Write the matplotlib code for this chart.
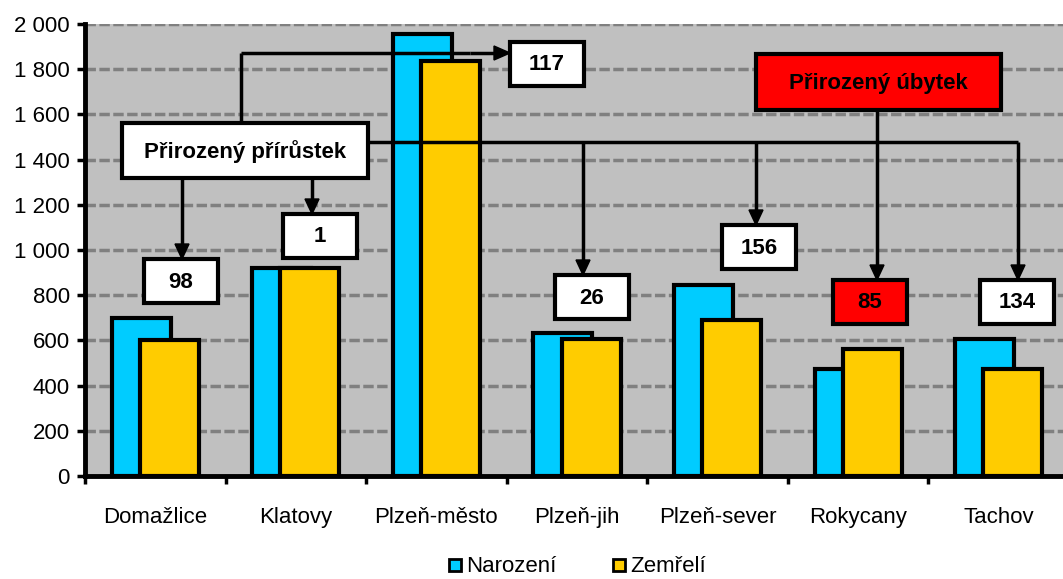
import numpy as np
import matplotlib
matplotlib.use("Agg")
import matplotlib.pyplot as plt
from matplotlib.patches import Rectangle, Polygon
from matplotlib.lines import Line2D

plt.rcParams['font.family'] = ['Liberation Sans', 'DejaVu Sans']

okresy = ["Domažlice", "Klatovy", "Plzeň-město", "Plzeň-jih", "Plzeň-sever", "Rokycany", "Tachov"]
narozeni = [698, 920, 1955, 632, 846, 475, 606]
zemreli = [600, 919, 1838, 606, 690, 560, 472]
yticks = [0, 200, 400, 600, 800, 1000, 1200, 1400, 1600, 1800, 2000]

cyan = "#00CCFF"
gold = "#FFCC00"

W, H = 1063, 579
fig = plt.figure(figsize=(W / 100, H / 100), dpi=100)

# main chart area (pixel layout)
left, right, top, bottom = 85, 1069, 24, 476
ax = fig.add_axes([left / W, 1 - bottom / H, (right - left) / W, (bottom - top) / H])
ax.set_facecolor("#C0C0C0")

x = np.arange(len(okresy))
ax.bar(x - 0.1, narozeni, width=0.42, color=cyan, edgecolor="black", linewidth=3, zorder=3)
ax.bar(x + 0.1, zemreli, width=0.42, color=gold, edgecolor="black", linewidth=3, zorder=4)

ax.set_xlim(-0.5, len(okresy) - 0.5)
ax.set_ylim(0, 2000)
ax.set_yticks(yticks)
ax.set_yticklabels([f"{v:,}".replace(",", " ") for v in yticks], fontsize=16)
ax.yaxis.grid(True, color="#808080", linestyle=(0, (3, 1)), linewidth=2.5, zorder=0)
ax.set_axisbelow(True)

ax.set_xticks(x)
ax.set_xticklabels(okresy, fontsize=16)
ax.tick_params(axis="x", length=0, pad=22)
ax.set_xticks(np.arange(len(okresy) + 1) - 0.5, minor=True)
ax.tick_params(axis="x", which="minor", length=6, width=2.5, direction="out")
ax.tick_params(axis="y", length=6, width=2.5, direction="out", pad=5)

for s in ["top", "right"]:
    ax.spines[s].set_visible(False)
for s in ["left", "bottom"]:
    ax.spines[s].set_linewidth(3.5)

# legend
handles = [Line2D([], [], marker="s", linestyle="none", markersize=9, markerfacecolor=c,
                  markeredgecolor="black", markeredgewidth=2) for c in (cyan, gold)]
fig.legend(handles, ["Narození", "Zemřelí"], loc="center", bbox_to_anchor=(576 / W, 1 - 567 / H),
           ncol=2, frameon=False, fontsize=16, handletextpad=0.1, columnspacing=2.4,
           handlelength=0.8)

# overlay in pixel coordinates for the callout boxes and connectors
ov = fig.add_axes([0, 0, 1, 1], zorder=10)
ov.set_xlim(0, W)
ov.set_ylim(H, 0)
ov.axis("off")
ov.patch.set_alpha(0)

lw = 2.5


def box(x0, y0, x1, y1, text, color="white"):
    ov.add_patch(Rectangle((x0, y0), x1 - x0, y1 - y0, facecolor=color, edgecolor="black",
                           linewidth=lw + 0.5, zorder=5))
    ov.text((x0 + x1) / 2, (y0 + y1) / 2 + 1, text, ha="center", va="center",
            fontsize=16, fontweight="bold", zorder=6)


def line(xs, ys):
    ov.plot(xs, ys, color="black", linewidth=lw, solid_capstyle="butt", zorder=4)


def arrow_down(xa, y0, y1):
    line([xa, xa], [y0, y1 - 12])
    ov.add_patch(Polygon([[xa - 7, y1 - 15], [xa + 7, y1 - 15], [xa, y1]], closed=True,
                         facecolor="black", edgecolor="black", zorder=4))


def arrow_right(y, x0, x1):
    line([x0, x1 - 12], [y, y])
    ov.add_patch(Polygon([[x1 - 16, y - 7], [x1 - 16, y + 7], [x1, y]], closed=True,
                         facecolor="black", edgecolor="black", zorder=4))


# value boxes: absolute difference births - deaths
rozdil = [n - z for n, z in zip(narozeni, zemreli)]
value_boxes = [(144, 259), (283, 214), (510, 42), (555, 275), (722, 225), (833, 280), (980, 280)]
for (bx, by), d in zip(value_boxes, rozdil):
    box(bx, by, bx + 74, by + 44, str(abs(d)), color="red" if d < 0 else "white")

# connectors from "Přirozený přírůstek"
line([241, 241], [123, 53])
line([241, 470], [53, 53])
arrow_right(53, 470, 510)
line([368, 1018], [142, 142])
arrow_down(182, 178, 259)
arrow_down(312, 178, 214)
arrow_down(583, 142, 275)
arrow_down(756, 142, 225)
arrow_down(1018, 142, 280)
# connector from "Přirozený úbytek"
arrow_down(877, 110, 280)

box(122, 123, 368, 178, "Přirozený přírůstek")
box(756, 54, 1001, 110, "Přirozený úbytek", color="red")

fig.savefig("out.png", dpi=100)
